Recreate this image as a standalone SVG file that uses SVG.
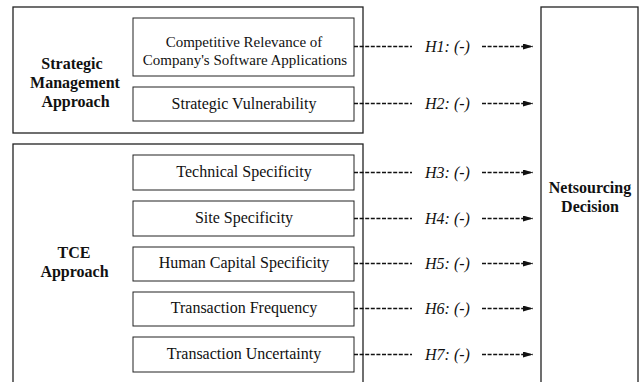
<svg xmlns="http://www.w3.org/2000/svg" width="641" height="382" viewBox="0 0 641 382">
<style>
.outer{fill:#fff;stroke:#222;stroke-width:1.3}
.box{fill:#fff;stroke:#222;stroke-width:1}
.t{font-family:"Liberation Serif","Times New Roman",serif;font-size:16px;fill:#111;text-anchor:middle}
.s{font-size:15px}
.b{font-weight:bold}
.h{font-style:italic;text-anchor:start}
.c{stroke:#111;stroke-width:1.7;stroke-dasharray:4,1.6;fill:none}
</style>
<defs>
<marker id="ah" markerWidth="10" markerHeight="6" refX="10" refY="3" orient="auto" markerUnits="userSpaceOnUse">
<path d="M0,0 L10,3 L0,6 Z" fill="#111"/>
</marker>
</defs>
<rect width="641" height="382" fill="#fff"/>
<g id="strategic">
<rect class="outer" x="13" y="7" width="350" height="126"/>
<text class="t b" x="72" y="69">Strategic</text>
<text class="t b" x="75" y="88">Management</text>
<text class="t b" x="75.5" y="107">Approach</text>
</g>
<g id="tce">
<rect class="outer" x="13" y="144" width="350" height="250"/>
<text class="t b" x="74" y="258">TCE</text>
<text class="t b" x="74.5" y="277">Approach</text>
</g>
<g id="netsourcing">
<rect class="outer" x="541" y="7" width="97" height="390"/>
<text class="t b" x="590" y="193">Netsourcing</text>
<text class="t b" x="590" y="212">Decision</text>
</g>
<g id="n1"><rect class="box" x="133" y="18" width="221" height="58"/>
<text class="t s" x="244" y="47">Competitive Relevance of</text>
<text class="t s" x="245" y="65">Company's Software Applications</text></g>
<g id="n2"><rect class="box" x="133" y="87" width="221" height="34"/>
<text class="t" x="244" y="109">Strategic Vulnerability</text></g>
<g id="n3"><rect class="box" x="133" y="155" width="221" height="35"/>
<text class="t" x="244" y="177">Technical Specificity</text></g>
<g id="n4"><rect class="box" x="133" y="201" width="221" height="35"/>
<text class="t" x="244" y="223">Site Specificity</text></g>
<g id="n5"><rect class="box" x="133" y="247" width="221" height="34"/>
<text class="t" x="244" y="268">Human Capital Specificity</text></g>
<g id="n6"><rect class="box" x="133" y="292" width="221" height="34"/>
<text class="t" x="244" y="313">Transaction Frequency</text></g>
<g id="n7"><rect class="box" x="133" y="337" width="221" height="35"/>
<text class="t" x="244" y="359">Transaction Uncertainty</text></g>
<g id="connectors">
<path class="c" d="M354,46.5 H412 M482,46.5 H533" marker-end="url(#ah)"/>
<path class="c" d="M354,103.5 H412 M482,103.5 H533" marker-end="url(#ah)"/>
<path class="c" d="M354,172.5 H412 M482,172.5 H533" marker-end="url(#ah)"/>
<path class="c" d="M354,218.5 H412 M482,218.5 H533" marker-end="url(#ah)"/>
<path class="c" d="M354,263.5 H412 M482,263.5 H533" marker-end="url(#ah)"/>
<path class="c" d="M354,308.5 H412 M482,308.5 H533" marker-end="url(#ah)"/>
<path class="c" d="M354,354.5 H412 M482,354.5 H533" marker-end="url(#ah)"/>
<text class="t h" x="425" y="52">H1: (-)</text>
<text class="t h" x="425" y="109">H2: (-)</text>
<text class="t h" x="425" y="178">H3: (-)</text>
<text class="t h" x="425" y="224">H4: (-)</text>
<text class="t h" x="425" y="269">H5: (-)</text>
<text class="t h" x="425" y="314">H6: (-)</text>
<text class="t h" x="425" y="360">H7: (-)</text>
</g>
</svg>
